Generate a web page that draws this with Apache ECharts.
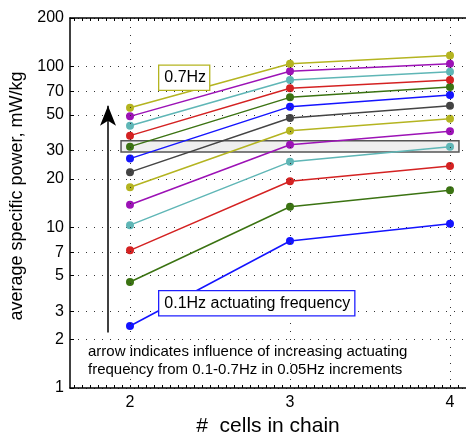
<!DOCTYPE html>
<html>
<head>
<meta charset="utf-8">
<script src="https://cdn.jsdelivr.net/npm/echarts@6/dist/echarts.min.js"></script>
<style>
  html, body { margin: 0; padding: 0; background: #fff; }
  #chart { width: 466px; height: 432px; }
</style>
</head>
<body>
<div id="chart"></div>
<script>
// Number of cells in the chain (x axis)
const cellCounts = [2, 3, 4];

// Actuating frequencies, 0.1–0.7 Hz in 0.05 Hz steps (one line each)
const frequencies = ['0.1', '0.15', '0.2', '0.25', '0.3', '0.35', '0.4',
                     '0.45', '0.5', '0.55', '0.6', '0.65', '0.7'];

// Average specific power (mW/kg) for each frequency, per chain length
const powerAt2Cells = [2.43, 4.56, 7.18, 10.3, 13.8, 17.7, 22.0, 26.7, 31.7, 37.1, 42.8, 48.9, 55.3];
const powerAt3Cells = [8.21, 13.4, 19.3, 25.5, 32.6, 39.8, 47.8, 56.2, 64.2, 73.1, 82.3, 93.2, 104];
const powerAt4Cells = [10.5, 17.0, 24.0, 31.7, 39.5, 47.3, 57.0, 66.4, 74.5, 82.3, 92.7, 104, 117];

// Tick labels
const yTickValues = [1, 2, 3, 5, 7, 10, 20, 30, 50, 70, 100, 200];
const xTickValues = [2, 3, 4];

const lineColors = ['#1414ff', '#3b7312', '#d42222', '#5fb6b6', '#9c12b6', '#b4b420', '#444444'];

const FONT = '"Liberation Sans", Arial, sans-serif';

// Small ticks along the top and bottom edges every 0.05
const minorXTicks = [];
for (let k = 33; k <= 82; k++) minorXTicks.push(+(k * 0.05).toFixed(2));

const series = frequencies.map((f, i) => ({
  name: f + ' Hz',
  type: 'line',
  data: cellCounts.map((c, j) => [c, [powerAt2Cells, powerAt3Cells, powerAt4Cells][j][i]]),
  symbol: 'circle',
  symbolSize: 8,
  lineStyle: { width: 1.5, color: lineColors[i % lineColors.length] },
  itemStyle: { color: lineColors[i % lineColors.length] },
  z: 3,
  animation: false
}));

// Highlight band and the frequency arrow
series.push({
  type: 'line',
  data: [],
  silent: true,
  animation: false,
  markArea: {
    silent: true,
    itemStyle: { color: '#efefef', borderColor: '#555', borderWidth: 1.5 },
    data: [[{ coord: [1.944, 34.5] }, { coord: [4.056, 29.4] }]]
  },
  markLine: {
    silent: true,
    symbol: ['none', 'arrow'],
    symbolSize: [12, 20],
    label: { show: false },
    lineStyle: { color: '#000', width: 1.5, type: 'solid' },
    data: [[{ coord: [1.8625, 2.21] }, { coord: [1.8625, 57] }]]
  },
  z: 2
});

const chart = echarts.init(document.getElementById('chart'), null, { renderer: 'canvas' });
chart.setOption({
  animation: false,
  backgroundColor: '#fff',
  grid: { left: 70, right: 0, top: 18, bottom: 44, containLabel: false, outerBoundsMode: 'none' },
  xAxis: [{
    type: 'value',
    position: 'bottom',
    min: 1.625,
    max: 4.1,
    name: '#  cells in chain',
    nameLocation: 'middle',
    nameGap: 25,
    nameTextStyle: { fontFamily: FONT, fontSize: 21, color: '#000', verticalAlign: 'top' },
    axisLine: { show: true, lineStyle: { color: '#000', width: 1.5 } },
    axisTick: { show: true, inside: true, length: 3, customValues: minorXTicks, lineStyle: { color: '#000', width: 1 } },
    axisLabel: { show: true, customValues: xTickValues, margin: 7, fontFamily: FONT, fontSize: 16, color: '#000' },
    splitLine: { show: false }
  }, {
    type: 'value',
    position: 'top',
    min: 1.625,
    max: 4.1,
    axisLine: { show: true, lineStyle: { color: '#000', width: 1.5 } },
    axisTick: { show: true, inside: true, length: 3, customValues: minorXTicks, lineStyle: { color: '#000', width: 1 } },
    axisLabel: { show: false },
    splitLine: { show: false }
  }],
  yAxis: {
    type: 'log',
    logBase: 10,
    min: 1,
    max: 200,
    name: 'average specific power, mW/kg',
    nameLocation: 'middle',
    nameGap: 42,
    nameTextStyle: { fontFamily: FONT, fontSize: 18, color: '#000', padding: [0, 0, 0, 14] },
    axisLine: { show: true, lineStyle: { color: '#000', width: 1.5 } },
    axisTick: { show: true, inside: true, length: 4, customValues: yTickValues, lineStyle: { color: '#000' } },
    axisLabel: {
      customValues: yTickValues, margin: 6, fontFamily: FONT, fontSize: 16, color: '#000',
      verticalAlign: 'middle', hideOverlap: false
    },
    splitLine: { show: true, lineStyle: { color: '#333', width: 1, type: [1, 7] } },
    minorTick: { show: false }
  },
  series: series.concat([{
    // vertical dotted guides at each chain length
    type: 'line',
    data: [],
    silent: true,
    animation: false,
    z: 1,
    markLine: {
      silent: true,
      symbol: 'none',
      label: { show: false },
      lineStyle: { color: '#333', width: 1, type: [1, 7] },
      data: xTickValues.map(v => ({ xAxis: v }))
    }
  }]),
  graphic: [{
    type: 'text',
    left: 158, top: 64.5,
    z: 10,
    style: {
      text: '0.7Hz', font: '16px ' + FONT, fill: '#000',
      backgroundColor: '#fff', borderColor: '#b4b420', borderWidth: 1.3,
      padding: [4, 3, 4, 5]
    }
  }, {
    type: 'text',
    left: 158, top: 290,
    z: 10,
    style: {
      text: '0.1Hz actuating frequency', font: '16px ' + FONT, fill: '#000',
      backgroundColor: '#fff', borderColor: '#2020ff', borderWidth: 1.3,
      padding: [4, 4, 4, 5]
    }
  }, {
    type: 'text',
    left: 88, top: 343,
    z: 10,
    style: {
      text: 'arrow indicates influence of increasing actuating\nfrequency from 0.1-0.7Hz in 0.05Hz increments',
      font: '15px ' + FONT, fill: '#000', lineHeight: 18
    }
  }]
});
</script>
</body>
</html>
